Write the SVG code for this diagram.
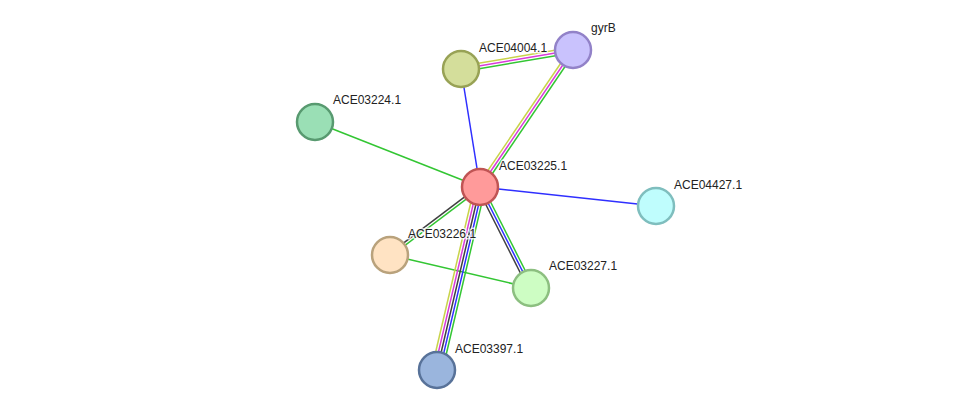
<svg xmlns="http://www.w3.org/2000/svg" width="975" height="416" viewBox="0 0 975 416">
<style>
.e{stroke-width:1.5;fill:none}
.y{stroke:#c8d34a}.m{stroke:#d93ad9}.k{stroke:#404040}.b{stroke:#2f2fff}.g{stroke:#33c633}
.n{stroke-width:2.5}
text{font-family:"Liberation Sans",Arial,sans-serif;font-size:12px;fill:#222;stroke:#fff;stroke-width:3;stroke-opacity:0.8;paint-order:stroke;stroke-linejoin:round}
</style>
<rect width="975" height="416" fill="#fff"/>
<g id="edges">
<line class="e b" x1="480" y1="187" x2="461" y2="69"/>
<line class="e b" x1="480" y1="187" x2="656" y2="206"/>
<line class="e g" x1="480" y1="187" x2="315" y2="122"/>
<line class="e g" x1="390" y1="255" x2="531" y2="288"/>
<line class="e y" x1="477.77" y1="185.48" x2="570.77" y2="48.48"/>
<line class="e m" x1="480" y1="187" x2="573" y2="50"/>
<line class="e g" x1="482.23" y1="188.52" x2="575.23" y2="51.52"/>
<line class="e y" x1="460.55" y1="66.34" x2="572.55" y2="47.34"/>
<line class="e m" x1="461" y1="69" x2="573" y2="50"/>
<line class="e g" x1="461.45" y1="71.66" x2="573.45" y2="52.66"/>
<line class="e k" x1="479.19" y1="185.92" x2="389.19" y2="253.92"/>
<line class="e g" x1="480.81" y1="188.08" x2="390.81" y2="256.08"/>
<line class="e k" x1="477.59" y1="188.22" x2="528.59" y2="289.22"/>
<line class="e b" x1="480" y1="187" x2="531" y2="288"/>
<line class="e g" x1="482.41" y1="185.78" x2="533.41" y2="286.78"/>
<line class="e y" x1="474.74" y1="185.77" x2="431.74" y2="368.77"/>
<line class="e m" x1="477.37" y1="186.38" x2="434.37" y2="369.38"/>
<line class="e k" x1="480" y1="187" x2="437" y2="370"/>
<line class="e b" x1="482.63" y1="187.62" x2="439.63" y2="370.62"/>
<line class="e g" x1="485.26" y1="188.24" x2="442.26" y2="371.24"/>
</g>
<g id="ACE03225.1"><circle class="n" cx="480" cy="187" r="18" fill="#ff9a9a" stroke="#c05454"/><text x="499" y="170">ACE03225.1</text></g>
<g id="gyrB"><circle class="n" cx="573" cy="50" r="18" fill="#c9c2fd" stroke="#9282c8"/><text x="591" y="32">gyrB</text></g>
<g id="ACE04004.1"><circle class="n" cx="461" cy="69" r="18" fill="#d4de9b" stroke="#98a255"/><text x="479" y="52">ACE04004.1</text></g>
<g id="ACE03224.1"><circle class="n" cx="315" cy="122" r="18" fill="#9adfb5" stroke="#589a70"/><text x="333" y="104">ACE03224.1</text></g>
<g id="ACE04427.1"><circle class="n" cx="656" cy="206" r="18" fill="#bffdfd" stroke="#7fbebe"/><text x="674" y="189">ACE04427.1</text></g>
<g id="ACE03226.1"><circle class="n" cx="390" cy="255" r="18" fill="#ffe3c3" stroke="#b9a27c"/><text x="408" y="238">ACE03226.1</text></g>
<g id="ACE03227.1"><circle class="n" cx="531" cy="288" r="18" fill="#cdfdc3" stroke="#8cbf80"/><text x="549" y="270">ACE03227.1</text></g>
<g id="ACE03397.1"><circle class="n" cx="437" cy="370" r="18" fill="#9ab5dd" stroke="#587299"/><text x="455" y="353">ACE03397.1</text></g>
</svg>
